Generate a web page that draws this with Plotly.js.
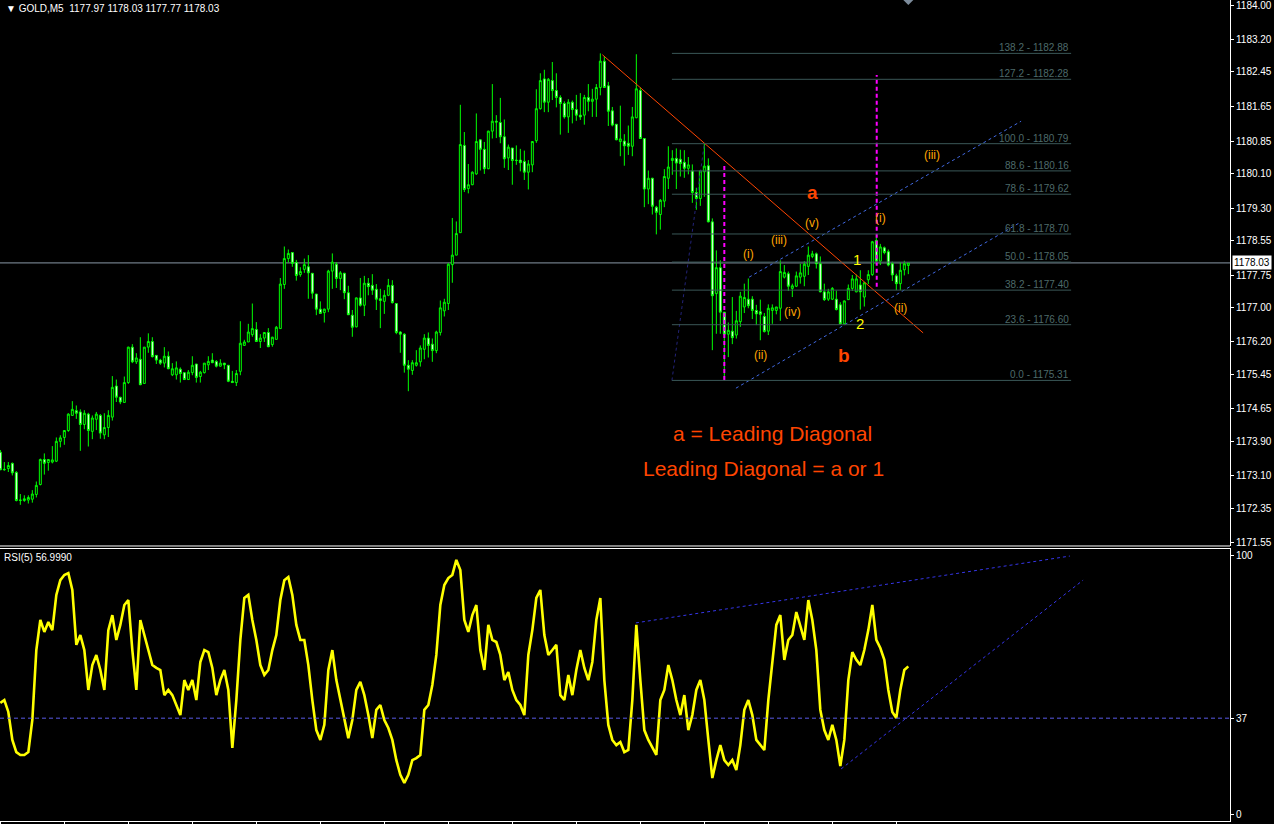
<!DOCTYPE html>
<html><head><meta charset="utf-8">
<script src="https://cdn.plot.ly/plotly-3.0.1.min.js"></script>
<style>html,body{margin:0;padding:0;background:#000;overflow:hidden}#chart{width:1274px;height:824px}</style>
</head><body><div id="chart"></div>
<script>
const symbol = 'GOLD,M5';
const open = [1173.65,1173.24,1173.27,1173.39,1173.18,1172.53,1172.53,1172.54,1172.56,1172.67,
1172.90,1173.48,1173.41,1173.42,1173.44,1173.90,1173.99,1174.15,1174.50,1174.61,
1174.58,1174.29,1174.53,1174.13,1174.41,1174.50,1174.05,1174.22,1174.46,1175.18,
1174.92,1174.80,1175.26,1176.08,1175.74,1175.80,1175.24,1176.08,1176.21,1175.89,
1175.78,1175.71,1175.87,1175.44,1175.44,1175.57,1175.49,1175.33,1175.49,1175.69,
1175.40,1175.49,1175.67,1175.78,1175.75,1175.64,1175.71,1175.66,1175.29,1175.26,
1175.52,1176.12,1176.20,1176.37,1176.49,1176.21,1176.29,1176.42,1176.14,1176.26,
1176.51,1177.53,1178.13,1178.27,1178.04,1177.76,1177.88,1177.94,1177.79,1177.31,
1176.96,1176.88,1176.96,1177.84,1178.00,1177.67,1177.79,1177.34,1176.82,1176.55,
1177.22,1177.05,1177.56,1177.51,1177.42,1177.20,1177.14,1177.28,1177.51,1177.09,
1176.43,1176.38,1175.66,1175.54,1175.66,1175.74,1176.03,1176.29,1176.15,1176.00,
1176.42,1176.92,1177.09,1177.99,1178.21,1178.73,1180.75,1179.75,1179.84,1180.09,
1180.88,1180.66,1180.21,1181.08,1181.31,1181.28,1180.95,1180.46,1180.69,1180.41,
1180.41,1180.38,1180.13,1180.30,1180.86,1181.60,1182.29,1181.75,1182.25,1182.02,
1181.86,1181.72,1181.41,1181.75,1181.58,1181.45,1181.45,1181.86,1181.77,1181.82,
1182.09,1182.70,1182.13,1181.55,1181.24,1180.84,1180.85,1180.80,1180.73,1181.39,
1182.02,1180.91,1179.74,1179.99,1179.32,1179.15,1179.46,1179.99,1180.40,1180.45,
1180.43,1180.36,1180.22,1180.16,1179.66,1179.52,1180.14,1180.28,1178.98,1177.32,
1177.92,1176.89,1176.38,1176.45,1176.36,1176.67,1177.01,1177.19,1177.19,1176.93,
1176.90,1176.79,1176.45,1176.93,1176.93,1176.98,1177.70,1177.78,1177.44,1177.49,
1177.70,1177.72,1177.95,1178.18,1178.24,1178.01,1177.36,1177.19,1177.19,1177.19,
1177.06,1176.62,1177.18,1177.44,1177.36,1177.52,1177.24,1177.64,1177.76,1178.55,
1178.07,1178.38,1178.29,1178.01,1177.73,1177.55,1177.87,1177.97];
const high = [1173.70,1173.42,1173.42,1173.41,1173.21,1172.68,1172.65,1172.65,1172.77,1172.97,
1173.50,1173.62,1173.49,1173.79,1173.99,1174.04,1174.16,1174.55,1174.83,1174.73,
1174.64,1174.62,1174.56,1174.50,1174.58,1174.53,1174.55,1174.62,1175.41,1175.33,
1174.93,1175.40,1176.09,1176.15,1175.94,1176.31,1176.08,1176.40,1176.31,1175.89,
1175.81,1176.08,1175.98,1175.71,1175.75,1175.61,1175.49,1175.55,1175.87,1175.69,
1175.53,1175.71,1175.87,1175.94,1175.78,1175.80,1175.71,1175.66,1175.53,1175.55,
1176.68,1176.25,1176.62,1177.09,1176.66,1176.38,1176.43,1176.52,1176.32,1176.57,
1177.68,1178.41,1178.34,1178.28,1178.10,1177.93,1178.13,1178.21,1177.79,1177.31,
1177.14,1176.97,1177.87,1178.25,1178.05,1177.84,1177.80,1177.50,1176.94,1177.23,
1177.68,1177.73,1177.68,1177.77,1177.54,1177.43,1177.40,1177.66,1177.63,1177.09,
1176.45,1176.40,1175.78,1175.78,1176.01,1176.12,1176.38,1176.42,1176.28,1176.46,
1177.16,1177.20,1178.02,1179.07,1178.99,1181.69,1181.06,1180.32,1180.15,1181.49,
1180.89,1180.83,1181.09,1182.17,1181.45,1181.85,1181.35,1180.77,1180.69,1180.75,
1180.67,1180.63,1180.41,1180.84,1182.05,1182.42,1182.50,1182.31,1182.68,1182.42,
1181.91,1181.77,1181.82,1181.79,1181.92,1181.96,1181.92,1182.17,1182.06,1182.17,
1182.88,1182.82,1182.22,1181.64,1181.24,1181.67,1181.01,1181.21,1181.64,1182.86,
1182.09,1180.91,1180.17,1180.00,1179.35,1179.51,1180.20,1180.73,1180.64,1180.68,
1180.65,1180.64,1180.48,1180.31,1179.77,1180.17,1180.79,1180.45,1179.06,1178.32,
1178.09,1176.89,1176.65,1177.24,1176.92,1177.36,1177.55,1177.67,1177.26,1177.06,
1177.18,1176.87,1177.07,1177.07,1177.01,1178.09,1177.98,1177.83,1177.55,1177.83,
1178.01,1178.07,1178.41,1178.31,1178.27,1178.18,1177.55,1177.43,1177.47,1177.39,
1177.12,1177.16,1177.53,1177.75,1177.76,1177.86,1177.59,1177.86,1178.54,1178.70,
1178.47,1178.41,1178.34,1178.06,1177.78,1178.04,1178.08,1178.03];
const low = [1173.24,1173.22,1173.19,1173.11,1172.51,1172.43,1172.50,1172.46,1172.48,1172.60,
1172.88,1173.13,1173.22,1173.39,1173.42,1173.76,1173.82,1174.12,1174.49,1174.42,
1173.68,1174.18,1173.78,1173.95,1174.16,1173.96,1173.95,1174.00,1174.38,1174.81,
1174.76,1174.80,1175.23,1175.71,1175.69,1175.20,1175.23,1175.95,1175.84,1175.69,
1175.67,1175.61,1175.57,1175.41,1175.33,1175.26,1175.32,1175.32,1175.43,1175.26,
1175.26,1175.47,1175.55,1175.71,1175.61,1175.63,1175.57,1175.27,1175.26,1175.18,
1175.43,1176.11,1176.20,1176.32,1176.20,1176.06,1176.20,1176.08,1176.09,1176.26,
1176.51,1177.43,1178.04,1177.94,1177.62,1177.71,1177.80,1177.20,1177.20,1176.82,
1176.85,1176.65,1176.89,1177.43,1177.45,1177.40,1177.19,1176.83,1176.32,1176.54,
1177.02,1176.80,1177.28,1177.29,1176.94,1176.52,1176.85,1177.26,1177.09,1176.38,
1175.95,1175.49,1175.06,1175.44,1175.63,1175.63,1175.80,1175.84,1175.74,1175.94,
1176.35,1176.79,1176.94,1177.57,1178.21,1178.73,1179.67,1179.64,1179.83,1180.07,
1180.17,1180.09,1180.20,1180.91,1180.92,1180.80,1180.23,1180.18,1179.84,1180.30,
1180.15,1179.95,1179.73,1180.13,1180.81,1181.58,1181.52,1181.52,1181.80,1181.63,
1181.00,1181.37,1181.04,1181.26,1181.32,1181.34,1181.23,1181.54,1181.41,1181.41,
1181.91,1182.09,1181.20,1181.19,1180.87,1180.50,1180.28,1180.53,1180.50,1181.38,
1180.90,1179.32,1179.39,1179.15,1178.69,1178.80,1179.32,1179.74,1180.07,1179.74,
1180.03,1180.00,1180.08,1179.42,1179.26,1179.35,1179.56,1178.97,1176.01,1176.39,
1176.39,1175.31,1175.85,1176.15,1176.28,1176.55,1176.87,1176.98,1176.73,1176.59,
1176.24,1176.42,1176.36,1176.62,1176.84,1176.69,1177.67,1177.38,1177.24,1177.47,
1177.55,1177.49,1177.75,1178.14,1177.90,1177.35,1177.15,1177.15,1177.17,1176.93,
1176.61,1176.61,1177.18,1177.38,1177.35,1176.95,1177.02,1177.54,1177.73,1177.98,
1177.98,1178.23,1177.95,1177.61,1177.40,1177.40,1177.74,1177.77];
const close = [1173.24,1173.25,1173.34,1173.17,1172.53,1172.54,1172.57,1172.60,1172.68,1172.88,
1173.48,1173.39,1173.48,1173.47,1173.90,1173.98,1174.15,1174.53,1174.64,1174.55,
1174.29,1174.55,1174.15,1174.44,1174.53,1174.09,1174.22,1174.50,1175.15,1174.92,
1174.81,1175.26,1176.08,1175.74,1175.83,1175.21,1176.08,1176.21,1175.86,1175.78,
1175.71,1175.87,1175.58,1175.58,1175.60,1175.47,1175.33,1175.50,1175.66,1175.38,
1175.50,1175.71,1175.75,1175.72,1175.64,1175.71,1175.67,1175.29,1175.26,1175.47,
1176.17,1176.20,1176.43,1176.51,1176.21,1176.29,1176.42,1176.09,1176.31,1176.54,
1177.54,1178.13,1178.25,1178.02,1177.74,1177.83,1177.99,1177.80,1177.33,1176.96,
1176.86,1176.96,1177.84,1178.05,1177.67,1177.80,1177.34,1176.83,1176.54,1177.22,
1177.05,1177.56,1177.48,1177.40,1177.19,1177.16,1177.28,1177.51,1177.11,1176.42,
1176.38,1175.66,1175.57,1175.72,1175.72,1176.06,1176.29,1176.12,1176.00,1176.43,
1176.99,1177.12,1178.00,1178.21,1178.71,1180.77,1179.73,1179.84,1180.13,1180.84,
1180.66,1180.21,1181.08,1181.31,1181.29,1180.95,1180.44,1180.71,1180.40,1180.40,
1180.35,1180.13,1180.32,1180.84,1181.60,1182.25,1181.75,1182.28,1182.02,1181.86,
1181.72,1181.41,1181.75,1181.58,1181.45,1181.41,1181.86,1181.77,1181.82,1182.09,
1182.70,1182.09,1181.54,1181.22,1180.88,1180.90,1180.74,1180.73,1181.41,1182.06,
1180.91,1179.74,1179.99,1179.34,1179.20,1179.48,1180.03,1180.25,1180.45,1180.34,
1180.33,1180.22,1180.30,1179.66,1179.52,1180.16,1180.27,1178.98,1177.27,1177.92,
1176.89,1176.38,1176.47,1176.30,1176.69,1177.26,1177.23,1177.04,1176.93,1176.85,
1176.84,1176.44,1176.98,1176.99,1177.01,1177.83,1177.81,1177.49,1177.50,1177.73,
1177.80,1178.00,1178.21,1178.24,1178.01,1177.36,1177.18,1177.36,1177.44,1176.95,
1176.62,1177.15,1177.44,1177.66,1177.66,1177.36,1177.57,1177.76,1178.52,1178.07,
1178.40,1178.27,1177.98,1177.75,1177.55,1177.86,1178.01,1178.03];
const rsi = [42.9,44.0,39.4,28.6,23.9,22.8,22.8,23.9,36.3,63.3,
74.9,70.3,74.1,71.0,84.6,90.3,92.3,93.0,86.5,65.3,
69.1,63.3,47.9,57.5,61.4,55.6,47.9,71.0,76.8,67.2,
73.0,80.7,82.6,63.3,47.9,74.9,69.1,63.3,57.5,56.4,
55.6,45.9,47.9,45.9,42.1,38.2,51.7,47.9,51.7,44.0,
58.7,63.3,62.5,56.4,45.9,51.7,55.6,47.9,25.5,44.0,
67.2,83.4,84.6,74.9,67.2,57.5,53.7,55.6,63.3,69.1,
82.6,90.3,91.5,84.6,73.0,67.2,67.2,57.5,44.0,32.4,
28.6,34.4,55.6,63.3,51.7,44.0,36.3,29.3,36.3,47.9,
51.0,45.9,38.2,29.3,40.2,42.1,36.3,33.2,28.6,20.8,
15.1,12.0,15.1,20.8,21.6,22.8,40.2,42.1,49.8,61.4,
80.7,88.4,91.1,92.3,98.1,94.2,74.9,70.3,76.8,80.7,
63.3,55.6,73.0,67.2,66.4,61.4,51.7,54.8,47.9,44.0,
42.1,38.2,61.4,71.0,83.4,86.5,69.1,61.4,63.3,65.3,
45.9,44.0,53.7,45.9,55.6,63.3,56.4,51.7,58.7,74.9,
83.4,51.7,34.4,28.6,26.6,27.8,23.9,24.7,44.0,73.0,
51.7,32.4,28.6,25.5,22.8,44.0,47.9,57.5,51.7,44.0,
38.2,45.9,32.4,38.2,47.9,51.7,44.0,28.6,13.9,20.8,
26.6,20.8,18.9,20.8,17.0,26.6,40.2,44.0,38.2,28.6,
26.6,24.7,44.0,58.7,73.0,76.8,59.5,67.2,69.1,78.0,
73.0,67.2,82.6,74.9,63.3,40.2,32.4,28.6,34.4,28.6,
18.5,28.6,51.7,62.5,59.5,57.5,63.3,71.0,80.7,67.2,
64.1,59.5,47.9,39.4,37.1,47.9,55.6,56.999];

const priceTicks = [1184.00,1183.20,1182.45,1181.65,1180.85,1180.10,1179.30,1178.55,1177.75,1177.00,1176.20,1175.45,1174.65,1173.90,1173.10,1172.35,1171.55];
const rsiTicks = [0, 37, 100];
const rsiLevel = 37;
const timeTicks = [0,16,32,48,64,80,96,112,128,144,160,176,192,208,224];

const fibRatios = [138.2,127.2,100.0,88.6,78.6,61.8,50.0,38.2,23.6,0.0];
const fibPrices = [1182.88,1182.28,1180.79,1180.16,1179.62,1178.70,1178.05,1177.40,1176.60,1175.31];
const fibBars = [167.9, 267.7];
const fibAnchorBars = [167.9, 176.0];
const fibAnchorPrices = [1175.31, 1180.79];

const redLineBars = [150.5, 230.7];
const redLinePrices = [1182.85, 1176.41];
const upperChanBars = [187.2, 255.2];
const upperChanPrices = [1177.70, 1181.31];
const lowerChanBars = [183.9, 255.2];
const lowerChanPrices = [1175.13, 1178.98];
const magentaBars = [181, 219.1];
const magentaTop = [1180.28, 1182.38];
const magentaBottom = [1175.32, 1177.48];

const rsiLine1Bars = [158.9, 267.4];
const rsiLine1Vals = [73.8, 99.6];
const rsiLine2Bars = [210.2, 270.7];
const rsiLine2Vals = [17.4, 90.3];

const waveText = ['(i)','(ii)','(iii)','(iv)','(v)','(i)','(ii)','(iii)'];
const waveBars = [187.0,190.0,194.7,198.0,203.0,220.0,225.0,233.0];
const wavePrices = [1178.24,1175.90,1178.56,1176.89,1178.95,1179.07,1176.99,1180.53];
const bigText = ['a','b'];
const bigBars = [203.0,211.0];
const bigPrices = [1179.67,1175.88];
const numText = ['1','2'];
const numBars = [214.2,215.0];
const numPrices = [1178.10,1176.62];
const noteText = ['a = Leading Diagonal','Leading Diagonal = a or 1'];
const noteBars = [193.0,190.7];
const notePrices = [1174.09,1173.28];

const idx = close.map((_, i) => i);
const n = close.length;
const lastClose = close[n-1];
const FONT = 'Liberation Sans, Arial, sans-serif';

const traces = [
  {type:'candlestick', x:idx, open:open, high:high, low:low, close:close, xaxis:'x', yaxis:'y',
   increasing:{line:{color:'#00ff00', width:1}, fillcolor:'#000000'},
   decreasing:{line:{color:'#00ff00', width:1}, fillcolor:'#ffffff'},
   whiskerwidth:0, hoverinfo:'skip', showlegend:false},
  {type:'scatter', mode:'lines', x:fibAnchorBars, y:fibAnchorPrices, xaxis:'x', yaxis:'y',
   line:{color:'#23237a', width:1, dash:'dot'}, hoverinfo:'skip'},
  {type:'scatter', mode:'lines', x:redLineBars, y:redLinePrices, xaxis:'x', yaxis:'y',
   line:{color:'#ff4500', width:1}, hoverinfo:'skip'},
  {type:'scatter', mode:'lines', x:upperChanBars, y:upperChanPrices, xaxis:'x', yaxis:'y',
   line:{color:'#4169e1', width:1, dash:'dot'}, hoverinfo:'skip'},
  {type:'scatter', mode:'lines', x:lowerChanBars, y:lowerChanPrices, xaxis:'x', yaxis:'y',
   line:{color:'#4169e1', width:1, dash:'dot'}, hoverinfo:'skip'},
  {type:'scatter', mode:'lines', x:idx, y:rsi, xaxis:'x', yaxis:'y2',
   line:{color:'#ffff00', width:2.6}, hoverinfo:'skip'},
  {type:'scatter', mode:'lines', x:rsiLine1Bars, y:rsiLine1Vals, xaxis:'x', yaxis:'y2',
   line:{color:'#3535e8', width:1, dash:'3px,3px'}, hoverinfo:'skip'},
  {type:'scatter', mode:'lines', x:rsiLine2Bars, y:rsiLine2Vals, xaxis:'x', yaxis:'y2',
   line:{color:'#3535e8', width:1, dash:'3px,3px'}, hoverinfo:'skip'}
];
magentaBars.forEach((b, i) => {
  traces.push({type:'scatter', mode:'lines', x:[b, b], y:[magentaBottom[i], magentaTop[i]], xaxis:'x', yaxis:'y',
    line:{color:'#ff00ff', width:2, dash:'4px,3px'}, hoverinfo:'skip'});
});
fibPrices.forEach((p) => {
  traces.push({type:'scatter', mode:'lines', x:fibBars, y:[p, p], xaxis:'x', yaxis:'y',
    line:{color:'#3a5757', width:1}, hoverinfo:'skip'});
});

const shapes = [
  {type:'line', xref:'paper', x0:0, x1:1, yref:'y', y0:lastClose, y1:lastClose, line:{color:'#8a98a6', width:1}, layer:'below'},
  {type:'line', xref:'paper', x0:0, x1:1, yref:'y2', y0:rsiLevel, y1:rsiLevel, line:{color:'#5a5ae6', width:1, dash:'4px,3px'}},
  {type:'line', xref:'paper', x0:0, x1:1, yref:'paper', y0:0.33496, y1:0.33496, line:{color:'#ffffff', width:1}},
  {type:'path', xref:'x', yref:'paper', xsizemode:'pixel', ysizemode:'pixel', xanchor:n-1, yanchor:1,
   path:'M -5 0 L 5 0 L 0 -5 Z', fillcolor:'#7d8c9c', line:{width:0}}
];

const annotations = [];
fibRatios.forEach((r, i) => {
  annotations.push({xref:'x', yref:'y', x:fibBars[1], y:fibPrices[i], xanchor:'right', yanchor:'bottom',
    text: r.toFixed(1) + ' - ' + fibPrices[i].toFixed(2), showarrow:false,
    font:{family:FONT, size:10, color:'#4d6a6a'}, yshift:-2});
});
waveText.forEach((t, i) => annotations.push({xref:'x', yref:'y', x:waveBars[i], y:wavePrices[i], text:t, showarrow:false,
  font:{family:FONT, size:12, color:'#ffa500'}}));
bigText.forEach((t, i) => annotations.push({xref:'x', yref:'y', x:bigBars[i], y:bigPrices[i], text:'<b>'+t+'</b>', showarrow:false,
  font:{family:FONT, size:19, color:'#ff4500'}}));
numText.forEach((t, i) => annotations.push({xref:'x', yref:'y', x:numBars[i], y:numPrices[i], text:t, showarrow:false,
  font:{family:FONT, size:15, color:'#ffff00'}}));
noteText.forEach((t, i) => annotations.push({xref:'x', yref:'y', x:noteBars[i], y:notePrices[i], text:t, showarrow:false,
  font:{family:FONT, size:21, color:'#ff4500'}}));

annotations.push({xref:'paper', yref:'paper', x:0.003, y:1, xanchor:'left', yanchor:'top', yshift:-1, showarrow:false,
  text:'\u25BC ' + symbol + '  ' + open[n-1].toFixed(2) + ' ' + high[n-1].toFixed(2) + ' ' + low[n-1].toFixed(2) + ' ' + close[n-1].toFixed(2),
  font:{family:FONT, size:10, color:'#ffffff'}});
annotations.push({xref:'paper', yref:'paper', x:0.002, y:0.3313, xanchor:'left', yanchor:'top', yshift:-1, showarrow:false,
  text:'RSI(5) ' + rsi[n-1].toFixed(4),
  font:{family:FONT, size:10, color:'#ffffff'}});
annotations.push({xref:'paper', yref:'y', x:1, y:lastClose, xanchor:'left', yanchor:'middle', xshift:2, showarrow:false,
  text:lastClose.toFixed(2), bgcolor:'#ffffff', borderpad:1,
  font:{family:FONT, size:10, color:'#000000'}});

const layout = {
  width:1274, height:824, margin:{l:0, r:44, t:0, b:3},
  paper_bgcolor:'#000000', plot_bgcolor:'#000000', showlegend:false,
  font:{family:FONT, color:'#ffffff', size:10},
  boxgap:0.3,
  xaxis:{range:[-0.083, 307.42], anchor:'y2', showline:true, linecolor:'#ffffff', linewidth:1, mirror:true,
    ticks:'outside', ticklen:3, tickcolor:'#ffffff', tickvals:timeTicks, showticklabels:false,
    showgrid:false, zeroline:false, rangeslider:{visible:false}, fixedrange:true},
  yaxis:{domain:[0.33496, 1], range:[1171.477, 1184.116], side:'right', anchor:'x', showline:true, linecolor:'#ffffff', linewidth:1,
    ticks:'outside', ticklen:3, tickcolor:'#ffffff', tickvals:priceTicks, ticktext:priceTicks.map(v => v.toFixed(2)),
    ticklabeloverflow:'allow', showgrid:false, zeroline:false, tickfont:{size:10, color:'#ffffff'}, fixedrange:true},
  yaxis2:{domain:[0, 0.3313], range:[-2.703, 102.317], side:'right', anchor:'x', showline:true, linecolor:'#ffffff', linewidth:1,
    ticks:'outside', ticklen:3, tickcolor:'#ffffff', tickvals:rsiTicks, ticktext:rsiTicks.map(String),
    ticklabeloverflow:'allow', showgrid:false, zeroline:false, tickfont:{size:10, color:'#ffffff'}, fixedrange:true},
  shapes:shapes, annotations:annotations
};
Plotly.newPlot('chart', traces, layout, {staticPlot:true, displayModeBar:false});
</script></body></html>
